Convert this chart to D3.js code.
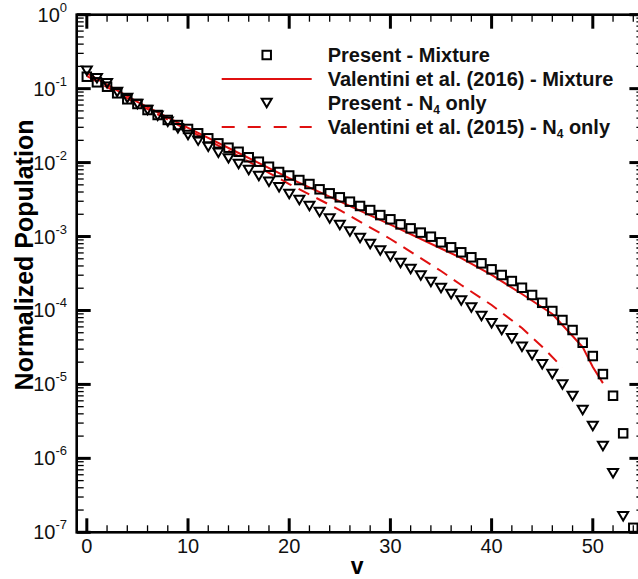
<!DOCTYPE html>
<html>
<head>
<meta charset="utf-8">
<script src="https://cdn.jsdelivr.net/npm/d3@7/dist/d3.min.js"></script>
<style>
  html, body { margin: 0; padding: 0; background: #fff; }
  svg { display: block; font-family: "Liberation Sans", Arial, Helvetica, sans-serif; }
</style>
</head>
<body>
<svg id="chart" width="638" height="579"></svg>
<script>
// Normalized vibrational population, one value per level v = 0, 1, 2, ...
const presentMixture = [
  0.145, 0.1218, 0.1062, 0.0865, 0.0718, 0.0620, 0.0514, 0.0440, 0.0377, 0.0322,
  0.0285, 0.0249, 0.0213, 0.0182, 0.0159, 0.0140, 0.0118, 0.01028, 0.00879, 0.00746,
  0.00669, 0.00581, 0.00513, 0.00435, 0.00384, 0.00339, 0.00296, 0.00259, 0.00228, 0.00195,
  0.00171, 0.00146, 0.00129, 0.00113, 0.000995, 0.000835, 0.000715, 0.000612, 0.000524, 0.000434,
  0.000360, 0.000302, 0.000250, 0.000203, 0.000162, 0.000127, 9.83e-5, 7.43e-5, 5.44e-5, 3.66e-5,
  2.42e-5, 1.38e-5, 7.03e-6, 2.18e-6, 1.15e-7
];
const presentN4 = [
  0.1748, 0.1380, 0.1181, 0.0901, 0.0747, 0.0620, 0.0514, 0.0431, 0.0357, 0.0291,
  0.0236, 0.0198, 0.0164, 0.0136, 0.0114, 0.00957, 0.00794, 0.00658, 0.00551, 0.00463,
  0.00376, 0.00312, 0.00259, 0.00215, 0.00175, 0.00143, 0.00117, 0.000955, 0.000792, 0.000647,
  0.000537, 0.000438, 0.000364, 0.000297, 0.000243, 0.000201, 0.000167, 0.000136, 0.000110, 8.41e-5,
  6.70e-5, 5.44e-5, 4.20e-5, 3.23e-5, 2.50e-5, 1.87e-5, 1.38e-5, 1.00e-5, 6.97e-6, 4.51e-6,
  2.74e-6, 1.47e-6, 6.28e-7, 1.65e-7
];

// Reference curves (Valentini et al.)
const valentini2016V   = [0, 5, 10, 15, 20, 25, 30, 35, 37, 40, 43, 46, 48, 49, 50, 51];
const valentini2016Pop = [0.1627, 0.0660, 0.0294, 0.01348, 0.00618, 0.00298, 0.00145, 0.000689,
                          0.000512, 0.000302, 0.000167, 8.96e-5, 4.51e-5, 3.20e-5, 1.72e-5, 1.04e-5];
const valentini2015V   = [0, 5, 10, 15, 20, 25, 30, 35, 37, 40, 43, 45, 47];
const valentini2015Pop = [0.1483, 0.0620, 0.0276, 0.01227, 0.00513, 0.00228, 0.000926, 0.000342,
                          0.000221, 0.0001186, 5.79e-5, 3.23e-5, 1.70e-5];

// Axis ticks
const xMajorTicks = [0, 10, 20, 30, 40, 50];
const xMinorTicks = [2, 4, 6, 8, 12, 14, 16, 18, 22, 24, 26, 28, 32, 34, 36, 38, 42, 44, 46, 48, 52, 54];
const yExponents  = [0, -1, -2, -3, -4, -5, -6, -7];
const yMinorMultipliers = [2, 3, 4, 5, 6, 7, 8, 9];

const RED = "#e01010";

const svg = d3.select("#chart");

const plot = { left: 76.7, right: 643.4, top: 14.7, bottom: 532.3 };
const x = d3.scaleLinear().domain([-1, 55]).range([plot.left, plot.right]);
const y = d3.scaleLog().domain([1e-7, 1]).range([plot.bottom, plot.top]);

const majorLen = 14, minorLen = 7;

// ---- tick marks on all four sides (pointing inward) ----
const ticks = svg.append("g").attr("stroke", "#000");
function xTicks(values, len, width) {
  values.forEach(v => {
    ticks.append("line").attr("x1", x(v)).attr("x2", x(v))
      .attr("y1", plot.bottom).attr("y2", plot.bottom - len).attr("stroke-width", width);
    ticks.append("line").attr("x1", x(v)).attr("x2", x(v))
      .attr("y1", plot.top).attr("y2", plot.top + len).attr("stroke-width", width);
  });
}
function yTicks(values, len, width) {
  values.forEach(v => {
    ticks.append("line").attr("y1", y(v)).attr("y2", y(v))
      .attr("x1", plot.left).attr("x2", plot.left + len).attr("stroke-width", width);
    ticks.append("line").attr("y1", y(v)).attr("y2", y(v))
      .attr("x1", plot.right).attr("x2", plot.right - len).attr("stroke-width", width);
  });
}
xTicks(xMajorTicks, majorLen, 3);
xTicks(xMinorTicks, minorLen, 1.3);
const yMajor = yExponents.map(e => Math.pow(10, e));
const yMinor = [];
yExponents.slice(1).forEach(e => yMinorMultipliers.forEach(m => yMinor.push(m * Math.pow(10, e))));
yTicks(yMajor, majorLen, 3);
yTicks(yMinor, minorLen, 1.3);

// ---- frame ----
svg.append("rect")
  .attr("x", plot.left).attr("y", plot.top)
  .attr("width", plot.right - plot.left).attr("height", plot.bottom - plot.top)
  .attr("fill", "none").attr("stroke", "#000").attr("stroke-width", 2.6);

// ---- tick labels ----
svg.append("g").selectAll("text").data(xMajorTicks).join("text")
  .attr("x", d => x(d)).attr("y", 553)
  .attr("text-anchor", "middle").attr("font-size", 20).attr("fill", "#111")
  .text(d => d);

const yLab = svg.append("g").selectAll("text").data(yExponents).join("text")
  .attr("x", 67).attr("y", d => y(Math.pow(10, d)) + 7)
  .attr("text-anchor", "end").attr("font-size", 20).attr("fill", "#111");
yLab.append("tspan").text("10");
yLab.append("tspan").attr("font-size", 13).attr("dy", -10).text(d => d === 0 ? "0" : "-" + Math.abs(d));

// ---- axis titles ----
svg.append("text")
  .attr("x", (plot.left + plot.right) / 2 - 3).attr("y", 574)
  .attr("text-anchor", "middle").attr("font-size", 23).attr("font-weight", "bold")
  .text("v");
svg.append("text")
  .attr("transform", "translate(33,255) rotate(-90)")
  .attr("text-anchor", "middle").attr("font-size", 25).attr("font-weight", "bold")
  .text("Normalized Population");

// ---- data ----
const lineGen = d3.line().x(d => x(d[0])).y(d => y(d[1]));
const data2016 = valentini2016V.map((v, i) => [v, valentini2016Pop[i]]);
const data2015 = valentini2015V.map((v, i) => [v, valentini2015Pop[i]]);

svg.append("path").datum(data2016).attr("d", lineGen)
  .attr("fill", "none").attr("stroke", RED).attr("stroke-width", 2);
svg.append("path").datum(data2015).attr("d", lineGen)
  .attr("fill", "none").attr("stroke", RED).attr("stroke-width", 2)
  .attr("stroke-dasharray", "12,8");

const sq = 8.5;
function square(g, cx, cy) {
  g.append("rect").attr("x", cx - sq / 2).attr("y", cy - sq / 2)
    .attr("width", sq).attr("height", sq)
    .attr("fill", "none").attr("stroke", "#000").attr("stroke-width", 2);
}
function triangle(g, cx, cy) {
  const w = 10, h = 8.5;
  g.append("path")
    .attr("d", `M${cx - w / 2},${cy - h / 2}L${cx + w / 2},${cy - h / 2}L${cx},${cy + h / 2}Z`)
    .attr("fill", "none").attr("stroke", "#000").attr("stroke-width", 2)
    .attr("stroke-linejoin", "miter");
}

const markers = svg.append("g");
presentN4.forEach((p, v) => triangle(markers, x(v), y(p)));
presentMixture.forEach((p, v) => square(markers, x(v), y(p)));

// ---- legend ----
const legendRows = [
  { label: ["Present - Mixture"], kind: "square" },
  { label: ["Valentini et al. (2016) - Mixture"], kind: "solid" },
  { label: ["Present - N", "4", " only"], kind: "triangle" },
  { label: ["Valentini et al. (2015) - N", "4", " only"], kind: "dashed" }
];
const legend = svg.append("g");
legendRows.forEach((row, i) => {
  const cy = 55 + i * 24;
  if (row.kind === "square") square(legend, 266.7, cy);
  if (row.kind === "triangle") triangle(legend, 266.7, cy);
  if (row.kind === "solid" || row.kind === "dashed") {
    const ln = legend.append("line").attr("x1", 221.7).attr("x2", 311.7)
      .attr("y1", cy).attr("y2", cy).attr("stroke", RED).attr("stroke-width", 2);
    if (row.kind === "dashed") ln.attr("stroke-dasharray", "13,13");
  }
  const t = legend.append("text").attr("x", 327.7).attr("y", cy + 7)
    .attr("font-size", 20).attr("font-weight", "bold").attr("fill", "#111");
  t.append("tspan").text(row.label[0]);
  if (row.label.length > 1) {
    t.append("tspan").attr("font-size", 12).attr("dy", 4).text(row.label[1]);
    t.append("tspan").attr("dy", -4).text(row.label[2]);
  }
});
</script>
</body>
</html>
